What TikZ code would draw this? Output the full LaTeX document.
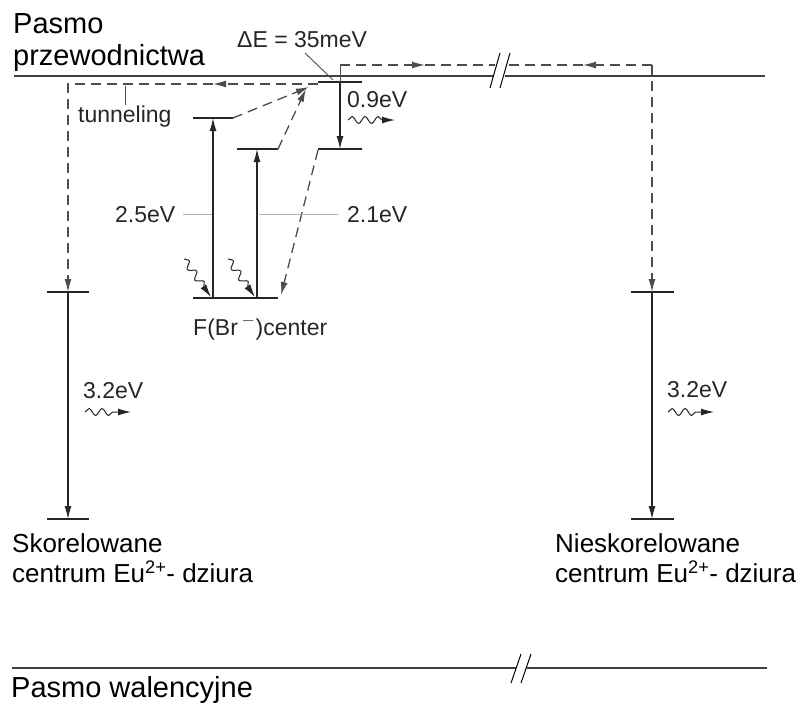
\documentclass[tikz,border=0pt]{standalone}
\usepackage{fontspec}
\setmainfont{Liberation Sans}
\usetikzlibrary{arrows.meta,decorations.pathmorphing}
\tikzset{
  band/.style={line width=1.6pt, black!75},
  level/.style={line width=1.6pt, black!85},
  trans/.style={line width=1.1pt, black!85, ->},
  hop/.style={line width=1.3pt, black!70, dash pattern=on 10pt off 6pt},
  lead/.style={line width=0.9pt, gray!60},
  photon/.style={decorate, decoration={snake, amplitude=3.5pt, segment length=13pt, post length=12pt}, line width=1pt, black!85, ->},
  lbl/.style={font=\fontsize{23}{27}\selectfont, black!85, inner sep=0pt},
  big/.style={font=\fontsize{26}{30}\selectfont, align=left, inner sep=0pt},
  bandlbl/.style={font=\fontsize{29}{32}\selectfont, align=left, inner sep=0pt},
}
\begin{document}
\begin{tikzpicture}[x=1pt, y=-1pt, >={Latex[length=13pt,width=7pt]}]
\useasboundingbox (0,0) rectangle (802,705);
% points of the levels
\coordinate (trap) at (340,82);
\coordinate (tick) at (340,65);
\coordinate (far) at (652,65);
\coordinate (tun) at (68,84);
\coordinate (fup) at (213,118);
\coordinate (fmid) at (257,149);
\coordinate (frel) at (340,149);
\coordinate (fgnd) at (235,298);
\coordinate (eul) at (68,292);
\coordinate (eulb) at (68,519);
\coordinate (eur) at (652,292);
\coordinate (eurb) at (652,519);
% bands
\draw[band] (14,76) -- (494,76);
\draw[band] (505,76) -- (765,76);
\draw[line width=1pt] (490,88) -- (500,53);
\draw[line width=1pt] (500,88) -- (510,53);
\draw[band] (12,668) -- (516,668);
\draw[band] (527,668) -- (767,668);
\draw[line width=1pt] (511,683) -- (521,654);
\draw[line width=1pt] (521,683) -- (531,654);
% levels
\draw[level] (trap) ++(-22,0) -- ++(44,0);
\draw[level] (fup) ++(-20,0) -- ++(40,0);
\draw[level] (fmid) ++(-20,0) -- ++(41,0);
\draw[level] (frel) ++(-22,0) -- ++(44,0);
\draw[level] (fgnd) ++(-42,0) -- ++(85,0);
\draw[level] (eul) ++(-21,0) -- ++(42,0);
\draw[level] (eulb) ++(-21,0) -- ++(42,0);
\draw[level] (eur) ++(-21,0) -- ++(43,0);
\draw[level] (eurb) ++(-21,0) -- ++(43,0);
% transitions
\draw[trans] (213,298) -- (fup);
\draw[trans] (257,298) -- (fmid);
\draw[trans] (trap) -- (frel);
\draw[trans] (eul) -- (eulb);
\draw[trans] (eur) -- (eurb);
% hopping of the electron
\draw[hop,->] (233,118) -- (309,87);
\draw[hop,->] (278,149) -- (306,89);
\draw[hop,->] (318,150) -- (281,295);
\draw[line width=0.9pt, black!70] (trap) -- (tick);
\draw[hop,->] (tick) -- (425,65);
\draw[hop] (425,65) -- (495,65);
\draw[hop,->] (far) -- (583,65);
\draw[hop] (583,65) -- (505,65);
\draw[hop,->] (far) -- (eur);
\draw[hop,->] (318,84) -- (213,84);
\draw[hop,->] (213,84) -- (tun) -- (eul);
% photons
\draw[photon] (184,259) -- (211,297);
\draw[photon] (228,259) -- (255,297);
\draw[photon] (348,120) -- (395,120);
\draw[photon] (85,412) -- (131,412);
\draw[photon] (668,412) -- (714,412);
% labels
\node[bandlbl, anchor=north west] (cb) at (13,13) {Pasmo\\przewodnictwa};
\node[bandlbl, anchor=north west] (vb) at (11,676) {Pasmo walencyjne};
\node[big, anchor=north west] (cor) at (12,533) {Skorelowane\\centrum Eu\textsuperscript{2+}- dziura};
\node[big, anchor=north west] (unc) at (555,533) {Nieskorelowane\\centrum Eu\textsuperscript{2+}- dziura};
\node[lbl, anchor=base west] (de) at (237,47) {ΔE = 35meV};
\draw[lead, black!70] (305,53) -- (333,80);
\node[lbl, anchor=base west] (tn) at (78,122) {tunneling};
\draw[lead, black!70] (125,86) -- (tn.north -| 125,0);
\node[lbl, anchor=base west] (e09) at (347,107) {0.9eV};
\node[lbl, anchor=base west] (e25) at (115,222) {2.5eV};
\node[lbl, anchor=base west] (e21) at (347,222) {2.1eV};
\draw[lead] (183,214) -- (212,214);
\draw[lead] (259,214) -- (338,214);
\node[lbl, anchor=base west] (fc) at (193,335) {F(Br\,$^{-}$)center};
\node[lbl, anchor=base west] (e32l) at (83,398) {3.2eV};
\node[lbl, anchor=base west] (e32r) at (667,397) {3.2eV};
\end{tikzpicture}
\end{document}
